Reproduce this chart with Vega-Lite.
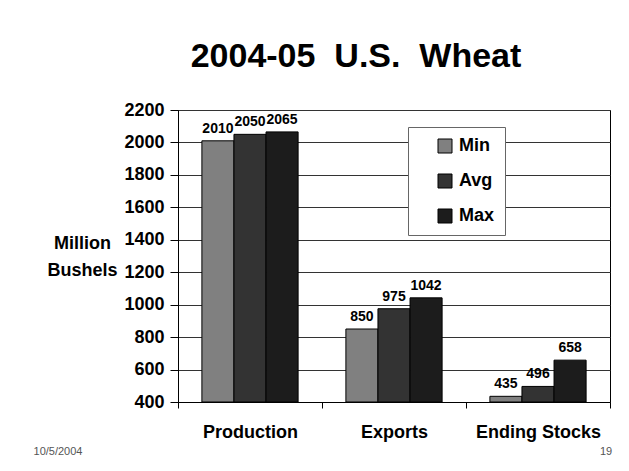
{
  "$schema": "https://vega.github.io/schema/vega-lite/v6.json",
  "width": 432,
  "height": 292,
  "autosize": "none",
  "padding": {"left": 178, "top": 110, "right": 19, "bottom": 69},
  "background": "white",
  "config": {
    "font": "Liberation Sans",
    "view": {"stroke": "#000", "strokeWidth": 1},
    "axisX": {
      "title": null,
      "labelAngle": 0,
      "labelFontSize": 18,
      "labelFontWeight": "bold",
      "labelColor": "#000",
      "labelPadding": 15,
      "tickBand": "extent",
      "tickSize": 6,
      "tickColor": "#000",
      "domainColor": "#000",
      "grid": false
    },
    "axisY": {
      "grid": true,
      "gridColor": "#333",
      "gridWidth": 1,
      "tickColor": "#000",
      "tickSize": 8,
      "domainColor": "#000",
      "labelFontSize": 18,
      "labelFontWeight": "bold",
      "labelColor": "#000",
      "labelPadding": 6,
      "labelOverlap": false,
      "format": "d",
      "titleAngle": 0,
      "titleX": -96,
      "titleY": 133,
      "titleAlign": "center",
      "titleBaseline": "middle",
      "titleFontSize": 18,
      "titleFontWeight": "bold",
      "titleLineHeight": 27,
      "titleColor": "#000"
    }
  },
  "title": {
    "text": "2004-05\u00a0\u00a0U.S.\u00a0\u00a0Wheat",
    "fontSize": 34,
    "fontWeight": "bold",
    "font": "Liberation Sans",
    "color": "#000",
    "anchor": "middle",
    "frame": "group",
    "baseline": "alphabetic",
    "dx": -38,
    "offset": 0
  },
  "datasets": {
    "bars": [
      {"item": "Production", "stat": "Min", "value": 2010},
      {"item": "Production", "stat": "Avg", "value": 2050},
      {"item": "Production", "stat": "Max", "value": 2065},
      {"item": "Exports", "stat": "Min", "value": 850},
      {"item": "Exports", "stat": "Avg", "value": 975},
      {"item": "Exports", "stat": "Max", "value": 1042},
      {"item": "Ending Stocks", "stat": "Min", "value": 435},
      {"item": "Ending Stocks", "stat": "Avg", "value": 496},
      {"item": "Ending Stocks", "stat": "Max", "value": 658}
    ],
    "date": [{"label": "10/5/2004"}],
    "page": [{"label": "19"}]
  },
  "layer": [
    {
      "data": {"name": "bars"},
      "mark": {"type": "bar", "stroke": "#000", "strokeWidth": 1},
      "encoding": {
        "x": {
          "field": "item",
          "type": "nominal",
          "sort": ["Production", "Exports", "Ending Stocks"],
          "scale": {"paddingInner": 0, "paddingOuter": 0},
          "axis": {"title": null}
        },
        "xOffset": {
          "field": "stat",
          "sort": ["Min", "Avg", "Max"],
          "scale": {"paddingInner": 0, "paddingOuter": 0.745}
        },
        "y": {
          "field": "value",
          "type": "quantitative",
          "scale": {"domain": [400, 2200], "zero": false, "nice": false},
          "axis": {
            "values": [400, 600, 800, 1000, 1200, 1400, 1600, 1800, 2000, 2200],
            "title": ["Million", "Bushels"]
          }
        },
        "y2": {"datum": 400},
        "color": {
          "field": "stat",
          "type": "nominal",
          "scale": {"domain": ["Min", "Avg", "Max"], "range": ["#808080", "#333333", "#1c1c1c"]},
          "legend": {
            "orient": "none",
            "legendX": 230,
            "legendY": 17,
            "title": null,
            "fillColor": "white",
            "strokeColor": "#666",
            "padding": 10,
            "rowPadding": 17,
            "symbolType": "square",
            "symbolSize": 196,
            "symbolStrokeColor": "#000",
            "symbolStrokeWidth": 1,
            "symbolOffset": 18,
            "labelFontSize": 18,
            "labelFontWeight": "bold",
            "labelColor": "#000",
            "labelOffset": 5,
            "labelExpr": "datum.label + '\u00a0\u00a0\u00a0\u00a0\u00a0\u00a0\u00a0\u00a0'"
          }
        }
      }
    },
    {
      "data": {"name": "bars"},
      "mark": {"type": "text", "baseline": "alphabetic", "dy": -8, "fontSize": 14, "fontWeight": "bold", "color": "#000"},
      "encoding": {
        "x": {"field": "item", "type": "nominal", "sort": ["Production", "Exports", "Ending Stocks"], "axis": {"title": null}},
        "xOffset": {"field": "stat", "sort": ["Min", "Avg", "Max"]},
        "y": {
          "field": "value",
          "type": "quantitative",
          "axis": {
            "values": [400, 600, 800, 1000, 1200, 1400, 1600, 1800, 2000, 2200],
            "title": ["Million", "Bushels"]
          }
        },
        "text": {"field": "value", "type": "quantitative"}
      }
    },
    {
      "data": {"name": "date"},
      "mark": {"type": "text", "baseline": "alphabetic", "align": "center", "dx": -192, "dy": 53, "fontSize": 11, "color": "#555"},
      "encoding": {
        "x": {"datum": "Production", "axis": {"title": null}},
        "y": {
          "datum": 400,
          "axis": {
            "values": [400, 600, 800, 1000, 1200, 1400, 1600, 1800, 2000, 2200],
            "title": ["Million", "Bushels"]
          }
        },
        "text": {"field": "label"}
      }
    },
    {
      "data": {"name": "page"},
      "mark": {"type": "text", "baseline": "alphabetic", "align": "center", "dx": 68, "dy": 53, "fontSize": 11, "color": "#555"},
      "encoding": {
        "x": {"datum": "Ending Stocks", "axis": {"title": null}},
        "y": {
          "datum": 400,
          "axis": {
            "values": [400, 600, 800, 1000, 1200, 1400, 1600, 1800, 2000, 2200],
            "title": ["Million", "Bushels"]
          }
        },
        "text": {"field": "label"}
      }
    }
  ]
}
